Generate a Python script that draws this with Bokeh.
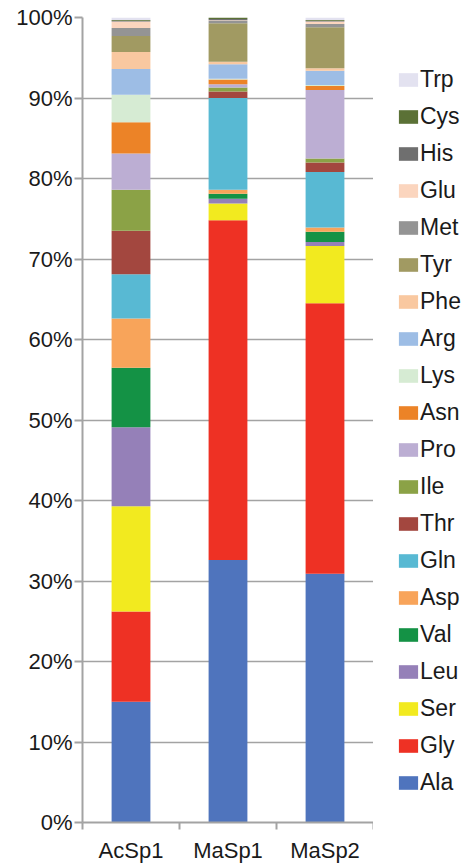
from bokeh.plotting import figure
from bokeh.models import (ColumnDataSource, FixedTicker, PrintfTickFormatter,
                          Range1d, Legend, LegendItem)
from bokeh.layouts import row
from bokeh.embed import file_html
from bokeh.resources import INLINE

categories = ["AcSp1", "MaSp1", "MaSp2"]

# stack order, bottom to top
residues = ["Ala", "Gly", "Ser", "Leu", "Val", "Asp", "Gln", "Thr", "Ile", "Pro",
            "Asn", "Lys", "Arg", "Phe", "Tyr", "Met", "Glu", "His", "Cys", "Trp"]

# percentage composition per protein, same order as residues
acsp1 = [15.0, 11.2, 13.1, 9.8, 7.4, 6.1, 5.5, 5.4, 5.1, 4.5,
         3.9, 3.4, 3.2, 2.1, 2.0, 1.0, 0.8, 0.1, 0.1, 0.3]
masp1 = [32.6, 42.2, 2.1, 0.6, 0.6, 0.5, 11.4, 0.8, 0.5, 0.4,
         0.6, 0.1, 1.8, 0.3, 4.8, 0.3, 0.05, 0.15, 0.2, 0.0]
masp2 = [30.9, 33.6, 7.1, 0.5, 1.3, 0.5, 6.9, 1.2, 0.5, 8.5,
         0.5, 0.1, 1.8, 0.3, 5.1, 0.4, 0.3, 0.1, 0.1, 0.3]

colors = ["#4F74BD", "#EE3124", "#F2EA1F", "#9580B8", "#149245", "#F8A45A",
          "#58B9D3", "#A3473F", "#8BA246", "#BCAED3", "#EC8327", "#D6EBD3",
          "#9DBDE5", "#F9C8A0", "#A19A62", "#949494", "#FBD5BE", "#6F6F6F",
          "#5B7136", "#E3E2F0"]

y_ticks = list(range(0, 101, 10))

data = {"x": [i + 0.5 for i in range(len(categories))]}
for j, r in enumerate(residues):
    data[r] = [acsp1[j], masp1[j], masp2[j]]
source = ColumnDataSource(data)

FONT = "Liberation Sans"
GREY = "#A3A3A3"

p = figure(width=373, height=865, x_range=Range1d(0, len(categories)),
           y_range=Range1d(0, 100), output_backend="svg", toolbar_location=None,
           min_border_left=82, min_border_right=0, min_border_top=17,
           min_border_bottom=38)
p.outline_line_color = None
p.background_fill_color = "white"

p.vbar_stack(residues, x="x", width=0.40, source=source,
             color=colors, line_color=None)

# axes
p.xaxis.ticker = FixedTicker(ticks=data["x"], minor_ticks=list(range(len(categories) + 1)))
p.xaxis.major_label_overrides = {x: c for x, c in zip(data["x"], categories)}
p.xaxis.major_tick_out = 0
p.xaxis.major_tick_in = 0
p.xaxis.minor_tick_out = 7
p.xaxis.minor_tick_in = 0
p.xaxis.minor_tick_line_color = GREY
p.xaxis.minor_tick_line_width = 2
p.xaxis.major_label_standoff = 8
p.yaxis.ticker = FixedTicker(ticks=y_ticks)
p.yaxis.formatter = PrintfTickFormatter(format="%d%%")
p.yaxis.major_tick_out = 8
p.yaxis.major_tick_in = 0
p.yaxis.minor_tick_line_color = None
p.yaxis.major_tick_line_color = GREY
p.yaxis.major_tick_line_width = 2
p.yaxis.major_label_standoff = 2
for ax in (p.xaxis, p.yaxis):
    ax.axis_line_color = GREY
    ax.axis_line_width = 2
    ax.major_label_text_font = FONT
    ax.major_label_text_font_size = "22px"
    ax.major_label_text_color = "#1a1a1a"

p.xgrid.grid_line_color = None
p.ygrid.ticker = FixedTicker(ticks=y_ticks)
p.ygrid.grid_line_color = GREY
p.ygrid.grid_line_width = 1.5

# legend panel: a second figure holding the same (hidden) stack for its legend
lf = figure(width=90, height=865, x_range=Range1d(0, 1), y_range=Range1d(0, 1),
            output_backend="svg", toolbar_location=None, title=None,
            x_axis_type=None, y_axis_type=None,
            min_border_left=0, min_border_right=0, min_border_top=17,
            min_border_bottom=38)
lf.outline_line_color = None
lf.xgrid.visible = False
lf.ygrid.visible = False
leg_renderers = lf.vbar_stack(residues, x="x", width=0.40, source=source,
                              color=colors, line_color=None)
for r in leg_renderers:
    r.visible = False

items = [LegendItem(label=r, renderers=[rend]) for r, rend in zip(residues, leg_renderers)]
legend = Legend(items=items[::-1], location=(23, 26), ncols=1)
legend.border_line_color = None
legend.background_fill_alpha = 0
legend.padding = 0
legend.margin = 0
legend.spacing = 10
legend.glyph_width = 24
legend.glyph_height = 17
legend.label_height = 17
legend.label_standoff = 0
legend.label_text_font = FONT
legend.label_text_font_size = "23px"
legend.label_text_color = "#1a1a1a"
legend.inactive_fill_alpha = 0
lf.add_layout(legend)

layout = row(p, lf)
open("out.html", "w").write(file_html(layout, INLINE))
